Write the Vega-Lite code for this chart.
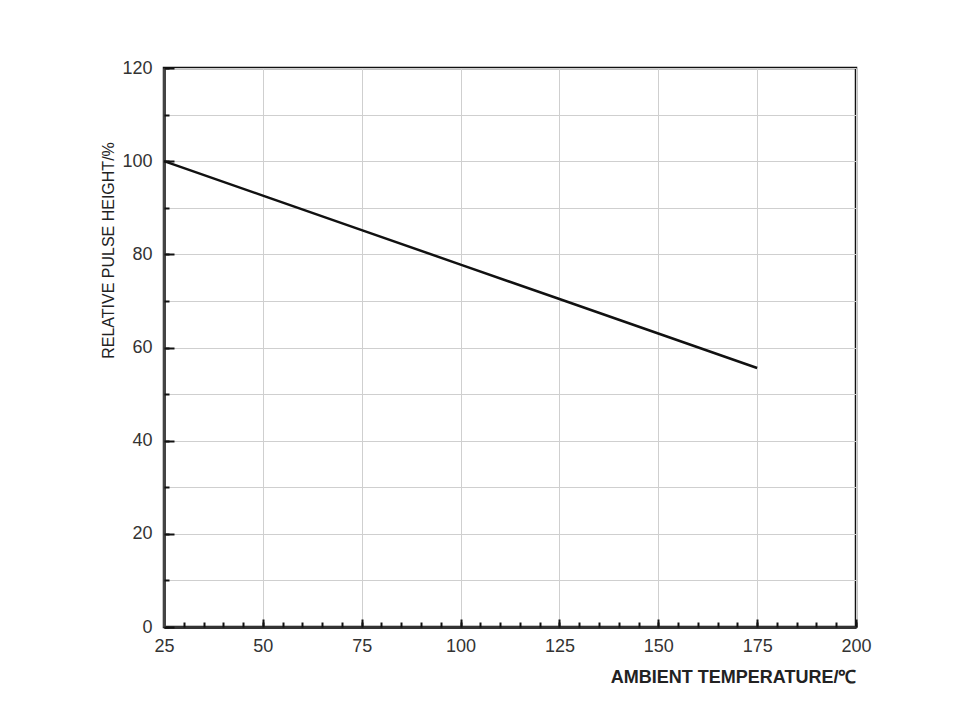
{
  "$schema": "https://vega.github.io/schema/vega-lite/v6.json",
  "width": 692,
  "height": 559,
  "autosize": {"type": "none"},
  "padding": {"left": 164, "top": 68, "right": 115, "bottom": 81},
  "background": "white",
  "config": {
    "view": {"stroke": "#111", "strokeWidth": 2.5},
    "font": "Liberation Sans",
    "axis": {"labelFont": "Liberation Sans", "titleFont": "Liberation Sans", "labelColor": "#333", "titleColor": "#222", "labelFontSize": 18, "tickColor": "#111", "tickWidth": 2, "gridColor": "#cfcfcf", "gridWidth": 1}
  },
  "data": {"values": [
    {"temp": 25, "rel": 100},
    {"temp": 50, "rel": 92.6},
    {"temp": 75, "rel": 85.2},
    {"temp": 100, "rel": 77.8},
    {"temp": 125, "rel": 70.4},
    {"temp": 150, "rel": 63.0},
    {"temp": 175, "rel": 55.6}
  ]},
  "resolve": {"axis": {"x": "independent", "y": "independent"}},
  "layer": [
    {
      "mark": {"type": "line", "color": "#111", "strokeWidth": 2.5},
      "encoding": {
        "x": {"field": "temp", "type": "quantitative", "scale": {"domain": [25, 200], "nice": false, "zero": false},
          "axis": {"orient": "bottom", "values": [25, 50, 75, 100, 125, 150, 175, 200], "grid": true, "tickSize": -8, "labelPadding": 18, "labelFontSize": 18, "domain": true, "domainColor": "#333", "domainWidth": 3, "title": "AMBIENT TEMPERATURE/℃", "titleFontSize": 18, "titleFontWeight": "bold", "titleAnchor": "end", "titlePadding": 13, "labelFlush": false}},
        "y": {"field": "rel", "type": "quantitative", "scale": {"domain": [0, 120], "nice": false},
          "axis": {"orient": "left", "values": [0, 20, 40, 60, 80, 100, 120], "grid": false, "tickSize": -10, "labelPadding": 22, "labelFontSize": 18, "domain": true, "domainColor": "#444", "domainWidth": 3, "title": "RELATIVE PULSE HEIGHT/%", "titleFontSize": 16, "titleFontWeight": "normal", "titleAnchor": "middle", "titleAngle": -90, "titleX": -56, "titleY": 182, "titleAlign": "center", "titleBaseline": "middle", "labelFlush": false}}
      }
    },
    {
      "mark": {"type": "line", "strokeOpacity": 0},
      "encoding": {
        "x": {"field": "temp", "type": "quantitative", "scale": {"domain": [25, 200], "nice": false, "zero": false},
          "axis": {"orient": "bottom", "values": [25, 30, 35, 40, 45, 50, 55, 60, 65, 70, 75, 80, 85, 90, 95, 100, 105, 110, 115, 120, 125, 130, 135, 140, 145, 150, 155, 160, 165, 170, 175, 180, 185, 190, 195, 200], "grid": false, "tickSize": -5, "labels": false, "domain": false, "title": null}},
        "y": {"field": "rel", "type": "quantitative", "scale": {"domain": [0, 120], "nice": false},
          "axis": {"orient": "left", "values": [0, 10, 20, 30, 40, 50, 60, 70, 80, 90, 100, 110, 120], "grid": true, "tickSize": -5, "labels": false, "domain": false, "title": null}}
      }
    }
  ]
}
